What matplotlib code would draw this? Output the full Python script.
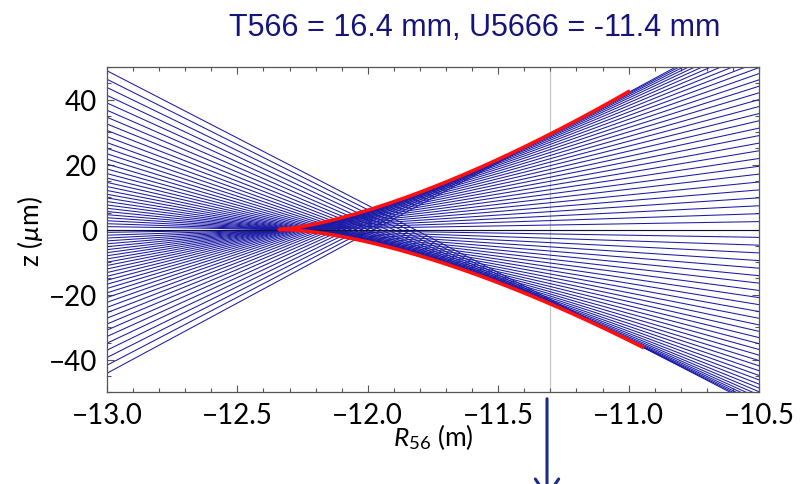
import numpy as np
import matplotlib
matplotlib.use("Agg")
import matplotlib.pyplot as plt
from matplotlib.ticker import FixedLocator, MultipleLocator

# ---------------- data ----------------
title_text = "T566 = 16.4 mm, U5666 = -11.4 mm"
x_ticks = [-13.0, -12.5, -12.0, -11.5, -11.0, -10.5]
x_tick_labels = ["\u221213.0", "\u221212.5", "\u221212.0", "\u221211.5", "\u221211.0", "\u221210.5"]
y_ticks = [-40, -20, 0, 20, 40]
y_tick_labels = ["\u221240", "\u221220", "0", "20", "40"]
x_range = [-13.0, -10.5]
y_range = [-50, 50]

# slope of each ray (energy offset), in um of z per m of R56
ray_slopes = [
    -41.400, -40.133, -38.865, -37.595, -36.323, -35.050, -33.775, -32.498,
    -31.219, -29.938, -28.656, -27.371, -26.086, -24.799, -23.509, -22.218,
    -20.925, -19.630, -18.334, -17.035, -15.736, -14.435, -13.131, -11.826,
    -10.519, -9.210, -7.899, -6.587, -5.273, -3.958, -2.640, -1.321,
    0.000,
    1.323, 2.647, 3.974, 5.302, 6.631, 7.963, 9.296, 10.631,
    11.968, 13.307, 14.647, 15.989, 17.333, 18.679, 20.026, 21.375,
    22.726, 24.079, 25.433, 26.789, 28.147, 29.507, 30.868, 32.231,
    33.596, 34.963, 36.332, 37.702, 39.074, 40.448, 41.824, 43.200,
]
focus_r56 = -12.333          # R56 of full linear compression (m)
quad_coef = 0.002285         # second-order term of ray offset
cubic_coef = -0.000244       # third-order term of ray offset
caustic_slope_range = [-40.6, 46.0]
marker_r56 = -11.3

# ---------------- style ----------------
W, H = 801, 485
plt.rcParams["mathtext.fontset"] = "custom"
plt.rcParams["mathtext.rm"] = "Lato"
plt.rcParams["mathtext.it"] = "Lato:italic"

fig = plt.figure(figsize=(W / 100, H / 100), dpi=100)
ax = fig.add_axes([107 / W, 1 - 393 / H, (759 - 107) / W, (393 - 68) / H])

ray_color = "#1a1aa6"
tick_font = "Lato"

# rays
r_ends = np.array(x_range)
for s in ray_slopes:
    z = s * (r_ends - focus_r56) + quad_coef * s ** 2 + cubic_coef * s ** 3
    ax.plot(r_ends, z, color=ray_color, lw=0.75, zorder=2)

# axis line at z = 0
ax.axhline(0, color="#101030", lw=0.8, zorder=3)

# caustic (envelope of the rays)
d = np.linspace(caustic_slope_range[0], caustic_slope_range[1], 600)
caustic_r = focus_r56 - 2 * quad_coef * d - 3 * cubic_coef * d ** 2
caustic_z = -quad_coef * d ** 2 - 2 * cubic_coef * d ** 3
ax.plot(caustic_r, caustic_z, color="#ff1010", lw=2.6, zorder=4,
        solid_capstyle="butt")

# marker line
ax.axvline(marker_r56, color="#c8c8c8", lw=0.9, zorder=1)

ax.set_xlim(*x_range)
ax.set_ylim(*y_range)

ax.xaxis.set_major_locator(FixedLocator(x_ticks))
ax.set_xticklabels(x_tick_labels)
ax.xaxis.set_minor_locator(MultipleLocator(0.1))
ax.yaxis.set_major_locator(FixedLocator(y_ticks))
ax.set_yticklabels(y_tick_labels)
ax.yaxis.set_minor_locator(MultipleLocator(5))

ax.tick_params(which="both", direction="in", top=True, right=True,
               color="#555555", width=0.8)
ax.tick_params(which="major", length=5, labelsize=20, pad=7)
ax.tick_params(which="minor", length=3)
for lab in ax.get_xticklabels() + ax.get_yticklabels():
    lab.set_fontfamily(tick_font)
for sp in ax.spines.values():
    sp.set_color("#555555")
    sp.set_linewidth(0.9)

fig.text(433 / W, 1 - 437 / H, r"$R_{56}$ (m)", fontsize=19, family=tick_font,
         ha="center", va="center")
fig.text(30 / W, 1 - 231 / H, "z ($\\mathit{\u00b5}$m)", fontsize=19,
         family=tick_font, ha="center", va="center", rotation=90)

fig.text(475 / W, 1 - 28 / H, title_text, fontsize=22, color="#14147c",
         family="Liberation Sans", ha="center", va="center")

# arrow below the plot (head runs off the bottom edge)
arrow_x = 547
fig.add_artist(matplotlib.patches.FancyArrowPatch(
    (arrow_x / W, 1 - 397 / H), (arrow_x / W, 1 - 503 / H),
    transform=fig.transFigure, arrowstyle="->,head_length=0.9,head_width=0.6",
    color="#1c2a8e", lw=2.2, mutation_scale=14))

fig.savefig("out.png", dpi=100)
